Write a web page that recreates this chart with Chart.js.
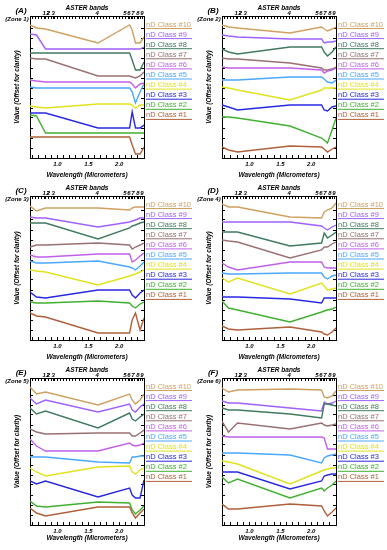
<!DOCTYPE html>
<html>
<head>
<meta charset="utf-8">
<script src="https://cdn.jsdelivr.net/npm/chart.js@4.4.1/dist/chart.umd.min.js"></script>
<style>
  html, body { margin: 0; padding: 0; background: #fff; }
  #wrap { position: relative; width: 387px; height: 550px; overflow: hidden; background: #fff; }
  #wrap canvas { position: absolute; }
</style>
</head>
<body>
<div id="wrap"></div>
<script>
// ASTER band centres (micrometers)
const bandCenters = [0.556, 0.661, 0.807, 1.656, 2.167, 2.209, 2.262, 2.336, 2.400];
// top axis band numbers, where they sit on the wavelength scale
const bandTickPos = [0.786, 0.850, 0.931, 1.641, 2.093, 2.158, 2.222, 2.303, 2.368];
const bandTickLabels = ['1', '2', '3', '4', '5', '6', '7', '8', '9'];
const wavelengthLabels = [1.0, 1.5, 2.0];

const classLabels = ['nD Class #1', 'nD Class #2', 'nD Class #3', 'nD Class #4', 'nD Class #5',
  'nD Class #6', 'nD Class #7', 'nD Class #8', 'nD Class #9', 'nD Class #10'];
const classColors = ['#b0603a', '#40b030', '#2828e0', '#e2e21c', '#4aa8ff',
  '#c060e8', '#9a7070', '#407a60', '#a060ff', '#d0a060'];

// values per class (#1 first), offset for clarity
const zone1 = [
  [21, 21, 21, 21, 21, 13, 4, 4, 11],
  [43, 42, 25, 25, 25, 25, 25, 25, 25],
  [45, 45, 45, 30, 30, 46, 30, 30, 33],
  [52, 51, 50, 54, 54, 53, 50, 53, 53],
  [71, 70, 70, 70, 70, 66, 55, 66, 74],
  [78, 77, 76, 76, 76, 74, 70, 74, 75],
  [100, 99, 99, 82, 82, 81, 80, 82, 86],
  [105, 105, 105, 105, 105, 98, 88, 88, 96],
  [124, 123, 109, 109, 109, 109, 109, 109, 111],
  [133, 130, 129, 115, 133, 128, 115, 115, 121]
];
const zone2 = [
  [11, 8, 6, 12, 11, 9, 6, 9, 11],
  [41, 41, 40, 32, 20, 18, 15, 28, 40],
  [53, 51, 48, 53, 53, 48, 47, 51, 52],
  [71, 70, 68, 58, 68, 70, 70, 70, 70],
  [78, 78, 78, 81, 81, 79, 76, 75, 78],
  [91, 90, 90, 90, 88, 85, 87, 88, 90],
  [100, 99, 99, 95, 90, 88, 88, 89, 91],
  [109, 106, 104, 111, 111, 106, 102, 106, 111],
  [123, 122, 121, 119, 119, 115, 116, 116, 117],
  [133, 131, 130, 125, 131, 129, 127, 129, 131]
];
const zone3 = [
  [27, 24, 23, 7, 7, 20, 27, 10, 22],
  [38, 37, 37, 39, 37, 34, 32, 36, 38],
  [48, 43, 42, 50, 50, 45, 42, 47, 50],
  [70, 69, 68, 55, 64, 65, 66, 68, 70],
  [79, 77, 77, 79, 73, 72, 70, 74, 78],
  [85, 83, 83, 86, 86, 78, 80, 84, 87],
  [93, 95, 95, 97, 95, 91, 93, 95, 97],
  [117, 117, 117, 101, 112, 114, 115, 117, 118],
  [123, 122, 122, 113, 118, 119, 120, 122, 122],
  [134, 129, 132, 132, 130, 132, 133, 133, 133]
];
const zone4 = [
  [14, 11, 10, 13, 8, 6, 5, 8, 12],
  [39, 32, 30, 18, 28, 29, 30, 31, 33],
  [43, 43, 43, 41, 37, 42, 42, 42, 42],
  [62, 58, 62, 46, 57, 54, 50, 51, 52],
  [67, 66, 66, 67, 67, 63, 61, 64, 65],
  [77, 73, 70, 78, 78, 73, 72, 72, 72],
  [100, 99, 98, 82, 90, 93, 93, 96, 98],
  [108, 108, 108, 94, 97, 107, 102, 105, 108],
  [118, 118, 118, 118, 114, 112, 110, 113, 115],
  [136, 133, 133, 123, 122, 128, 130, 132, 137]
];
const zone5 = [
  [17, 12, 9, 18, 18, 12, 7, 12, 16],
  [24, 19, 18, 23, 22, 15, 11, 15, 19],
  [44, 41, 44, 28, 37, 30, 27, 27, 45],
  [57, 53, 49, 58, 59, 53, 51, 55, 57],
  [68, 68, 68, 63, 62, 68, 68, 69, 69],
  [86, 79, 74, 74, 82, 80, 79, 80, 82],
  [96, 93, 91, 92, 92, 89, 89, 92, 95],
  [117, 111, 114, 97, 112, 106, 104, 108, 111],
  [127, 121, 125, 113, 121, 115, 113, 118, 121],
  [138, 131, 133, 120, 131, 125, 121, 125, 131]
];
const zone6 = [
  [21, 16, 16, 21, 19, 14, 9, 13, 17],
  [48, 42, 46, 27, 37, 34, 37, 40, 44],
  [53, 53, 53, 36, 44, 49, 50, 51, 51],
  [64, 63, 61, 41, 54, 55, 56, 57, 57],
  [72, 72, 72, 70, 62, 67, 69, 70, 71],
  [89, 88, 88, 88, 88, 87, 76, 76, 76],
  [104, 93, 102, 96, 102, 100, 99, 100, 101],
  [117, 115, 115, 111, 107, 121, 121, 120, 119],
  [124, 122, 122, 117, 114, 123, 121, 122, 124],
  [137, 133, 135, 136, 135, 128, 127, 129, 134]
];

const panelLetters = ['A', 'B', 'C', 'D', 'E', 'F'];
const zoneValues = [zone1, zone2, zone3, zone4, zone5, zone6];

// layout of the 3x2 grid
const rowTops = [0, 180, 362];
const rowHeights = [180, 182, 181];
const rowPlotBottoms = [158, 160, 163];
const rowYMax = [142, 144, 147];
const colLefts = [0, 192];
const colWidths = [192, 195];
const plotLeft = 30, plotRight = 144, plotTop = 16;

const xMin = 0.556, xMax = 2.40;
const axisFont = size => ({ family: '"Liberation Sans", Arial, sans-serif', size, weight: 'bold', style: 'italic' });

// minor ticks every 0.1 / 0.05 um
const bottomTicks = [];
for (let k = 6; k <= 24; k++) bottomTicks.push(k / 10);
const topTicks = [];
for (let k = 12; k <= 48; k++) topTicks.push(k / 20);
const topAll = topTicks.concat(bandTickPos).sort((a, b) => a - b);

const wrap = document.getElementById('wrap');

function makePanel(idx) {
  const row = Math.floor(idx / 2), col = idx % 2;
  const w = colWidths[col], h = rowHeights[row];
  const plotBottom = rowPlotBottoms[row];

  const cv = document.createElement('canvas');
  cv.width = w; cv.height = h;
  cv.style.left = colLefts[col] + 'px';
  cv.style.top = rowTops[row] + 'px';
  wrap.appendChild(cv);

  const datasets = zoneValues[idx].map((vals, i) => ({
    label: classLabels[i],
    data: vals.map((v, j) => ({ x: bandCenters[j], y: v })),
    borderColor: classColors[i],
    borderWidth: 1.4,
    pointRadius: 0,
    fill: false,
    tension: 0
  }));

  // panel tag + ENVI style legend (text with a line under it)
  const panelText = {
    id: 'panelText',
    afterDraw(chart) {
      const { ctx, chartArea } = chart;
      ctx.save();
      ctx.fillStyle = '#000';
      ctx.textAlign = 'center';
      ctx.textBaseline = 'middle';
      ctx.font = 'italic bold 8px "Liberation Sans", Arial, sans-serif';
      ctx.fillText('(' + panelLetters[idx] + ')', 21, 11);
      ctx.font = 'italic bold 6px "Liberation Sans", Arial, sans-serif';
      ctx.fillText('(Zone ' + (idx + 1) + ')', 17, 19.5);

      ctx.textAlign = 'left';
      ctx.textBaseline = 'alphabetic';
      ctx.font = '7.5px "Liberation Sans", Arial, sans-serif';
      const lx = chartArea.right + 2;
      const n = chart.data.datasets.length;
      for (let i = n - 1; i >= 0; i--) {
        const ds = chart.data.datasets[i];
        const y = chartArea.top + 10.5 + (n - 1 - i) * 10.1;
        ctx.fillStyle = ds.borderColor;
        ctx.fillText(ds.label, lx, y, 45);
        ctx.strokeStyle = ds.borderColor;
        ctx.lineWidth = 1;
        ctx.beginPath();
        ctx.moveTo(lx, y + 2);
        ctx.lineTo(lx + 46, y + 2);
        ctx.stroke();
      }
      ctx.restore();
    }
  };

  new Chart(cv, {
    type: 'line',
    data: { datasets },
    options: {
      responsive: false,
      animation: false,
      devicePixelRatio: 1,
      layout: { padding: 0 },
      plugins: { legend: { display: false }, tooltip: { enabled: false } },
      scales: {
        x: {
          type: 'linear', position: 'bottom', min: xMin, max: xMax,
          afterBuildTicks: s => { s.ticks = bottomTicks.map(v => ({ value: v })); },
          afterFit: s => { s.height = h - plotBottom; },
          grid: { drawOnChartArea: false, tickLength: -3, color: '#000', lineWidth: 1 },
          border: { color: '#000', width: 1 },
          ticks: {
            autoSkip: false, maxRotation: 0, padding: 6, color: '#000', font: axisFont(6),
            callback: v => wavelengthLabels.includes(v) ? v.toFixed(1) : ''
          },
          title: { display: true, text: 'Wavelength (Micrometers)', color: '#000', font: axisFont(6.5), padding: { top: 0, bottom: 1 } }
        },
        x2: {
          type: 'linear', axis: 'x', position: 'top', min: xMin, max: xMax,
          afterBuildTicks: s => { s.ticks = topAll.map(v => ({ value: v })); },
          afterFit: s => { s.height = plotTop; },
          grid: { drawOnChartArea: false, tickLength: -3, color: '#000', lineWidth: 1 },
          border: { color: '#000', width: 1 },
          ticks: {
            autoSkip: false, maxRotation: 0, padding: 2, color: '#000', font: axisFont(6),
            callback: v => { const k = bandTickPos.indexOf(v); return k >= 0 ? bandTickLabels[k] : ''; }
          },
          title: { display: true, text: 'ASTER bands', color: '#000', font: axisFont(6.5), padding: { top: 4, bottom: 0 } }
        },
        y: {
          type: 'linear', position: 'left', min: 0, max: rowYMax[row],
          afterFit: s => { s.width = plotLeft; },
          grid: { drawOnChartArea: false, tickLength: -3, color: '#000', lineWidth: 1 },
          border: { color: '#000', width: 1 },
          ticks: { display: false, stepSize: 10 },
          title: { display: true, text: 'Value (Offset for clarity)', color: '#000', font: axisFont(6.5), padding: { top: 13.5, bottom: 0 } }
        },
        y2: {
          type: 'linear', axis: 'y', position: 'right', min: 0, max: rowYMax[row],
          afterFit: s => { s.width = w - plotRight; },
          grid: { drawOnChartArea: false, tickLength: -3, color: '#000', lineWidth: 1 },
          border: { color: '#000', width: 1 },
          ticks: { display: false, stepSize: 10 }
        }
      }
    },
    plugins: [panelText]
  });
}

for (let i = 0; i < 6; i++) makePanel(i);
</script>
</body>
</html>
